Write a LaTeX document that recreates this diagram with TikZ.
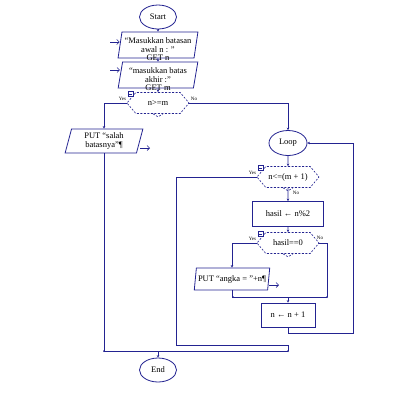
\documentclass[tikz,border=0pt]{standalone}
\usepackage{fontspec}
\setmainfont{Liberation Serif}
\usepackage{tikz}
\usetikzlibrary{shapes.geometric,shapes.symbols,arrows.meta}

\definecolor{flowline}{RGB}{35,35,145}
\newcommand{\flowfont}{\fontsize{8.5}{9.5}\selectfont}
\newcommand{\tagfont}{\fontsize{5}{5.5}\selectfont}

\begin{document}
\begin{tikzpicture}[x=1pt, y=-1pt,
	wire/.style={draw=flowline, line width=0.8pt},
	arr/.style={wire, -{Stealth[length=2.5pt,width=2.5pt]}},
	outarr/.style={draw=flowline, line width=0.6pt, -{Straight Barb[length=2.5pt,width=5pt]}},
	term/.style={ellipse, draw=flowline, line width=0.8pt, fill=white, inner sep=0pt, minimum width=37pt, minimum height=24pt, font=\flowfont},
	io/.style={trapezium, trapezium left angle=78, trapezium right angle=102, trapezium stretches=true, draw=flowline, line width=0.8pt, fill=white, align=center, inner sep=1pt, font=\flowfont},
	proc/.style={rectangle, draw=flowline, line width=0.8pt, fill=white, font=\flowfont},
	cond/.style={signal, signal to=west and east, signal pointer angle=100, draw=flowline, line width=0.6pt, dash pattern=on 2pt off 1.5pt, fill=white, inner sep=0pt, minimum width=62pt, minimum height=21pt, font=\flowfont},
	notch/.style={draw=flowline, line width=0.6pt, dash pattern=on 2pt off 1.5pt},
	fold/.style={rectangle, draw=flowline, line width=0.5pt, fill=white, inner sep=0pt, minimum size=5pt},
	tag/.style={font=\tagfont, inner sep=0pt}]
	\useasboundingbox (0,0) rectangle (402,400);
	
	\node [term] (start) at (158,17) {Start};
	\node [io, minimum width=80pt, minimum height=26pt, label={[anchor=center, yshift=1pt, font=\flowfont]south:GET n}] (in1) at (158,45) {“Masukkan batasan\\awal n : ”};
	\node [io, minimum width=80pt, minimum height=26pt, label={[anchor=center, yshift=1pt, font=\flowfont]south:GET m}] (in2) at (158,75) {“masukkan batas\\akhir :”};
	\node [cond] (c1) at (158,103) {n>=m};
	
	\node [io, minimum width=78pt, minimum height=24pt] (err) at (104,141) {PUT “salah\\batasnya”¶};
	
	\node [term, minimum width=38pt, minimum height=25pt] (loop) at (288,143) {Loop};
	\node [cond] (c2) at (288,177) {n<=(m + 1)};
	\node [proc, minimum width=71pt, minimum height=25pt] (calc) at (288,214) {hasil ← n\%2};
	\node [cond] (c3) at (288,243) {hasil==0};
	\node [io, minimum width=76pt, minimum height=22pt] (out) at (232,279) {PUT “angka = ”+n¶};
	\node [proc, minimum width=54pt, minimum height=24pt] (inc) at (288,315) {n ← n + 1};
	
	\node [term] (end) at (158,370) {End};
	
	\coordinate (src1) at (110,42);
	\coordinate (src2) at (110,70);
	\coordinate (sink1) at (150,148);
	\coordinate (sink2) at (279,285);
	\coordinate (j3l) at (233,297);
	\coordinate (j3r) at (327,297);
	\coordinate (j3) at (288,297);
	\coordinate (back) at (353,333);
	\coordinate (exitL) at (176,345);
	\coordinate (exitR) at (288,345);
	\coordinate (jA) at (104,351);
	\coordinate (jE) at (288,351);
	\coordinate (jM) at (158,351);
	
	\draw [arr] (start) -- (in1);
	\draw [arr] (in1) -- (in2);
	\draw [arr] (in2) -- (c1);
	\draw [arr] (c1.west) -| (err.north);
	\draw [arr] (c1.east) -| (loop.north);
	\draw [arr] (loop) -- (c2);
	\draw [arr] (c2) -- (calc);
	\draw [arr] (calc) -- (c3);
	\draw [arr] (c3.west) -| (out.north);
	\draw [wire] (out.south) -- (out.south |- j3l) -- (j3r);
	\draw [wire] (c3.east) -| (j3r);
	\draw [arr] (j3) -- (inc);
	\draw [arr] (inc) |- (back) |- (loop.east);
	\draw [wire] (c2.west) -| (exitL) -- (exitR) -- (jE);
	\draw [wire] (err) -- (jA) -- (jE);
	\draw [arr] (jM) -- (end);
	
	\draw [outarr] (src1) -- (src1 -| in1.west);
	\draw [outarr] (src2) -- (src2 -| in2.west);
	\draw [outarr] (sink1 -| err.east) -- (sink1);
	\draw [outarr] (sink2 -| out.east) -- (sink2);
	
	\foreach \p in {jA, jE, j3l, j3r}
	\fill [flowline] (\p) circle (1pt);
	
	\foreach \c in {c1, c2, c3} {
		\draw [notch] ([xshift=-5pt]\c.south) -- ([yshift=-3pt]\c.south) -- ([xshift=5pt]\c.south);
		\node [fold, xshift=4pt, yshift=-2pt] (\c-fold) at (\c.west |- \c.north) {};
		\draw [flowline, line width=0.4pt] ([xshift=1pt]\c-fold.west) -- ([xshift=-1pt]\c-fold.east);
		\node [tag, anchor=east, xshift=-1.5pt, yshift=-2pt] at (\c-fold.south west) {Yes};
	}
	\node [tag] at (194,99) {No};
	\node [tag] at (296,193) {No};
	\node [tag] at (320,238) {No};
\end{tikzpicture}
\end{document}
